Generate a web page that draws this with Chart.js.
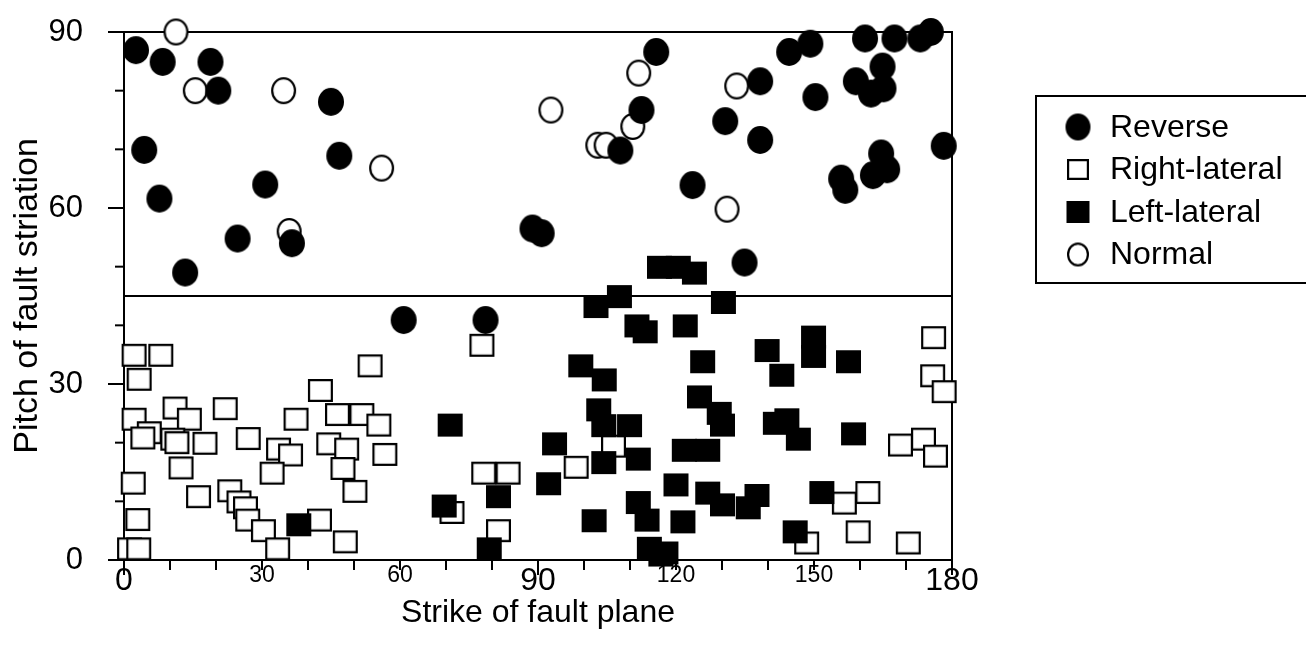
<!DOCTYPE html>
<html>
<head>
<meta charset="utf-8">
<script src="https://cdn.jsdelivr.net/npm/chart.js@4/dist/chart.umd.min.js"></script>
<style>
  html, body { margin: 0; padding: 0; background: #fff; }
</style>
</head>
<body>
<canvas id="myChart" width="1306" height="653"></canvas>
<script>
// strike (deg), pitch (deg)
const reversePts = [
  [2.6,86.9],[8.4,84.9],[18.8,84.9],[20.5,80],[45,78.1],[4.4,69.9],[46.8,68.9],[7.7,61.6],
  [30.7,64],[24.7,54.8],[36.5,54],[13.3,49],[115.7,86.6],[112.5,76.7],[107.9,69.8],[88.8,56.5],
  [90.8,55.7],[144.6,86.6],[149.2,88],[161.1,88.9],[167.5,88.9],[173.1,88.9],[175.4,90],
  [138.3,81.6],[159.1,81.6],[164.9,84.1],[162.4,79.5],[165.1,80.4],[150.3,78.9],[130.7,74.8],
  [138.3,71.6],[178.2,70.6],[123.6,63.9],[164.6,69.3],[165.9,66.6],[162.8,65.6],[155.9,65],
  [156.8,63.1],[134.9,50.7],[60.8,40.9],[78.6,40.9]
];
const rightLateralPts = [
  [2.2,24],[5.5,21.7],[4.1,20.8],[11.1,25.9],[14.2,24],[10.6,20.6],[11.5,20],[17.6,19.9],
  [12.4,15.7],[22,25.8],[27,20.7],[37.4,24],[33.6,18.9],[36.2,17.9],[32.2,14.8],[42.7,28.9],
  [46.4,24.8],[51.7,24.8],[55.4,23],[44.5,19.8],[48.4,18.9],[47.6,15.6],[50.2,11.7],[56.7,18],
  [2,13.1],[16.2,10.8],[23,11.8],[25,9.9],[26.4,8.9],[26.9,6.8],[30.3,5],[33.4,1.9],[42.5,6.8],
  [48.1,3.1],[3,6.9],[1.2,1.9],[3.2,1.9],[2.2,34.9],[8,34.9],[3.3,30.8],[53.5,33.1],
  [77.8,36.6],[78.2,14.8],[83.5,14.8],[71.3,8.1],[81.4,5],[98.3,15.8],[106.4,19.4],
  [176,37.9],[175.8,31.4],[178.3,28.7],[168.8,19.6],[173.8,20.6],[176.4,17.7],[161.7,11.5],
  [156.6,9.7],[159.6,4.8],[170.5,2.9],[148.4,2.9]
];
const leftLateralPts = [
  [38,6],[116.4,49.9],[120.5,49.9],[124,48.9],[102.6,43.2],[107.7,44.9],[130.3,43.9],
  [111.5,39.9],[113.3,38.9],[122,39.9],[125.8,33.8],[99.3,33.1],[104.4,30.7],[70.9,23],
  [93.6,19.8],[92.3,13],[81.4,10.8],[69.6,9.2],[79.4,1.9],[103.2,25.6],[104.3,22.9],
  [109.9,22.9],[104.3,16.6],[111.8,17.2],[125.1,27.8],[129.4,25],[130.1,23],[121.8,18.7],
  [126.9,18.7],[102.2,6.7],[111.8,9.8],[113.7,6.8],[114.2,2],[116.7,0.85],[120,12.8],
  [121.5,6.5],[126.9,11.4],[130.1,9.4],[137.6,11],[135.7,8.9],[117.8,1.2],[139.8,35.7],
  [143,31.5],[149.9,38],[149.9,34.7],[157.5,33.8],[141.6,23.3],[144.1,23.9],[146.6,20.6],
  [158.6,21.5],[151.7,11.5],[145.9,4.8]
];
const normalPts = [
  [11.3,90],[15.5,80],[34.7,80],[56,66.8],[35.9,56],[111.9,83],[92.8,76.7],[110.6,73.9],
  [103,70.7],[104.8,70.7],[133.2,80.8],[131.1,59.8]
];
const seriesNames = ['Reverse', 'Right-lateral', 'Left-lateral', 'Normal'];
const xTicks = [0, 30, 60, 90, 120, 150, 180];
const xBigTicks = [0, 90, 180];
const yTicks = [0, 30, 60, 90];
const splitPitch = 45;

const FONT = "'Liberation Sans', Arial, Helvetica, sans-serif";

// marker images (slightly oval like the scan)
function marker(shape, filled, w, h) {
  const c = document.createElement('canvas');
  c.width = w + 4;
  c.height = h + 4;
  const g = c.getContext('2d');
  g.lineWidth = 2.2;
  g.strokeStyle = '#000';
  g.fillStyle = filled ? '#000' : '#fff';
  g.beginPath();
  if (shape === 'circle') {
    g.ellipse(c.width / 2, c.height / 2, w / 2 - 1.1, h / 2 - 1.1, 0, 0, Math.PI * 2);
  } else {
    g.rect(3.1, 3.1, w - 2.2, h - 2.2);
  }
  g.fill();
  g.stroke();
  return c;
}

const plotMarks = [
  marker('circle', true, 26, 28),
  marker('rect', false, 25, 23),
  marker('rect', true, 25, 23),
  marker('circle', false, 25, 27)
];
const legendMarks = [
  marker('circle', true, 25, 27),
  marker('rect', false, 22, 21),
  marker('rect', true, 23, 22),
  marker('circle', false, 22, 24)
];

const toXY = pts => pts.map(p => ({ x: p[0], y: p[1] }));

// frame, middle line and tick marks, drawn under the points
const framePlugin = {
  id: 'frame',
  beforeDatasetsDraw(chart) {
    const ctx = chart.ctx;
    const a = chart.chartArea;
    const xs = chart.scales.x, ys = chart.scales.y;
    ctx.save();
    ctx.strokeStyle = '#000';
    ctx.lineWidth = 2;
    ctx.strokeRect(a.left, a.top, a.right - a.left, a.bottom - a.top);
    const line = (x1, y1, x2, y2) => { ctx.beginPath(); ctx.moveTo(x1, y1); ctx.lineTo(x2, y2); ctx.stroke(); };
    const ym = ys.getPixelForValue(splitPitch);
    line(a.left, ym, a.right, ym);
    for (let v = 0; v <= 180; v += 10) {
      const px = xs.getPixelForValue(v);
      line(px, a.bottom, px, a.bottom + (xBigTicks.includes(v) ? 15 : 10));
    }
    for (let v = 0; v <= 90; v += 10) {
      const py = ys.getPixelForValue(v);
      line(a.left - (yTicks.includes(v) ? 16 : 9), py, a.left, py);
    }
    ctx.restore();
  }
};

// boxed legend on the right
const legendPlugin = {
  id: 'boxLegend',
  afterDraw(chart) {
    const ctx = chart.ctx;
    ctx.save();
    ctx.strokeStyle = '#000';
    ctx.lineWidth = 2;
    ctx.strokeRect(1036, 96, 290, 187);
    ctx.fillStyle = '#000';
    ctx.font = '32px ' + FONT;
    ctx.textBaseline = 'middle';
    chart.data.datasets.forEach((ds, i) => {
      const cy = 127 + i * 42.5;
      const m = legendMarks[i];
      ctx.drawImage(m, 1078 - m.width / 2, cy - m.height / 2);
      ctx.fillText(ds.label, 1110, cy + 1);
    });
    ctx.restore();
  }
};

Chart.defaults.color = '#000';
Chart.defaults.font.family = FONT;

const ctx = document.getElementById('myChart');
const graphique = new Chart(ctx.getContext('2d'), {
  type: 'scatter',
  data: {
    datasets: [
      { label: seriesNames[0], data: toXY(reversePts), pointStyle: plotMarks[0], order: 0 },
      { label: seriesNames[1], data: toXY(rightLateralPts), pointStyle: plotMarks[1], order: 2 },
      { label: seriesNames[2], data: toXY(leftLateralPts), pointStyle: plotMarks[2], order: 1 },
      { label: seriesNames[3], data: toXY(normalPts), pointStyle: plotMarks[3], order: 3 }
    ].map(d => Object.assign(d, { pointRadius: 13, pointHoverRadius: 13, clip: false }))
  },
  options: {
    responsive: false,
    devicePixelRatio: 1,
    animation: false,
    events: [],
    layout: { padding: { left: 0, top: 32, right: 354, bottom: 0 } },
    plugins: { legend: { display: false }, tooltip: { enabled: false } },
    scales: {
      x: {
        type: 'linear',
        min: 0,
        max: 180,
        afterBuildTicks: s => { s.ticks = xTicks.map(v => ({ value: v })); },
        afterFit: s => { s.height = 93; },
        grid: { display: false, drawTicks: false },
        border: { display: false },
        ticks: {
          padding: 2,
          maxRotation: 0,
          color: '#000',
          font: c => ({ family: FONT, size: xBigTicks.includes(c.tick && c.tick.value) ? 32 : 23 })
        },
        title: {
          display: true,
          text: 'Strike of fault plane',
          color: '#000',
          font: { family: FONT, size: 32 },
          padding: { top: 0, bottom: 21 }
        }
      },
      y: {
        type: 'linear',
        min: 0,
        max: 90,
        afterBuildTicks: s => { s.ticks = yTicks.map(v => ({ value: v })); },
        afterFit: s => { s.width = 124; s.paddingTop = 0; s.paddingBottom = 0; },
        grid: { display: false, drawTicks: false },
        border: { display: false },
        ticks: { padding: 41, color: '#000', font: { family: FONT, size: 31 } },
        title: {
          display: true,
          text: 'Pitch of fault striation',
          color: '#000',
          font: { family: FONT, size: 34 },
          padding: { top: 7, bottom: 0 }
        }
      }
    }
  },
  plugins: [framePlugin, legendPlugin]
});
</script>
</body>
</html>
